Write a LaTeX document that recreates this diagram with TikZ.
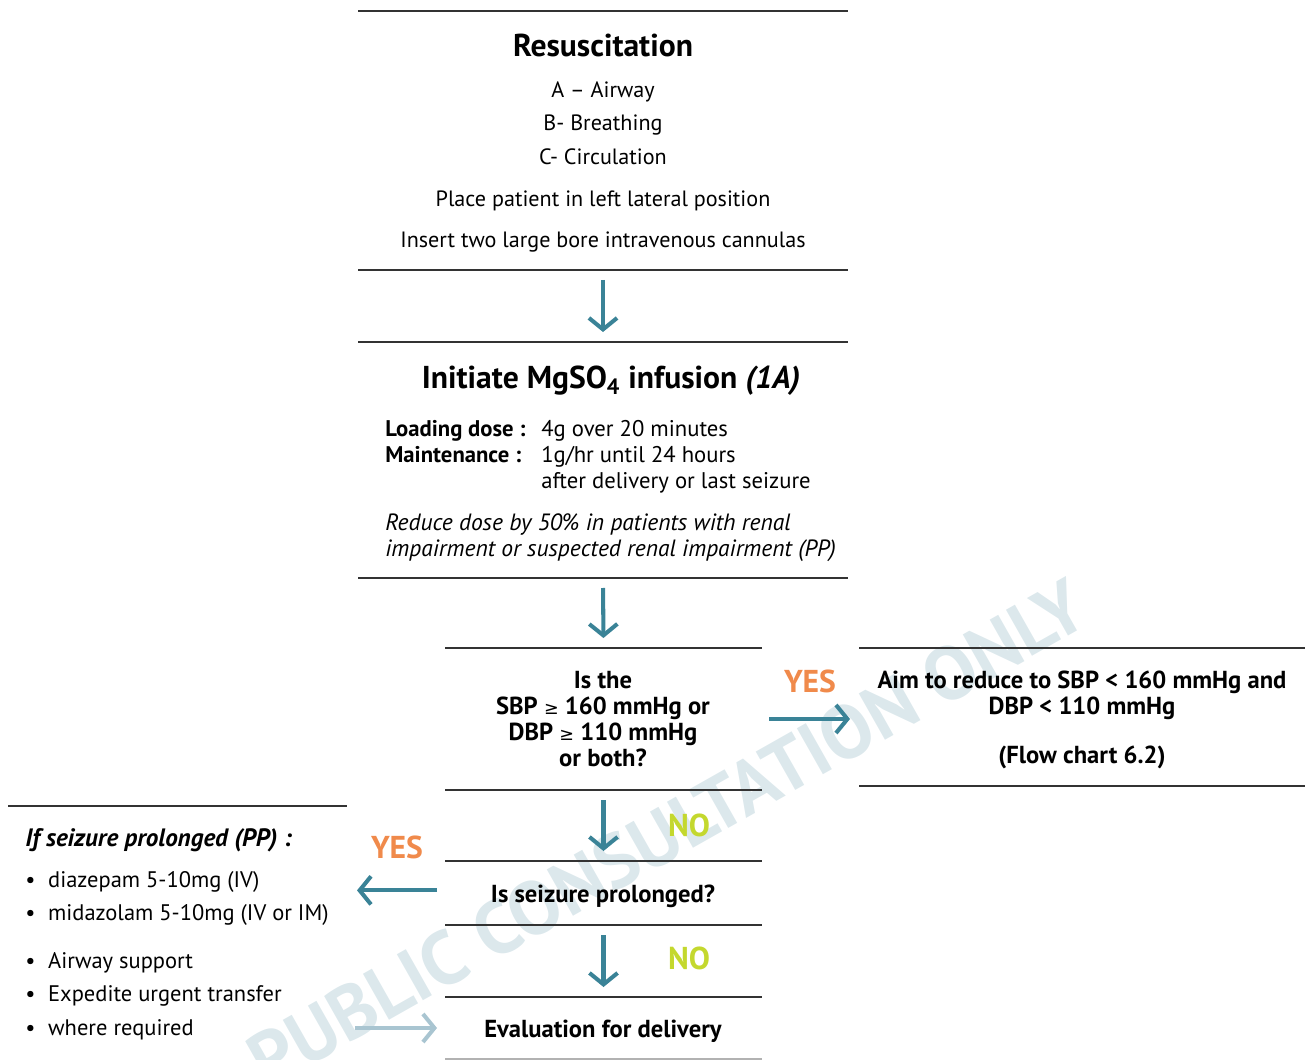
\documentclass[tikz,border=0pt]{standalone}
\usepackage{fontspec}
\setmainfont{PT Sans}
\newfontfamily\dejavu{DejaVu Sans}
\usetikzlibrary{arrows.meta, fit}
\definecolor{flowteal}{HTML}{3A8397}
\definecolor{paleteal}{HTML}{A9C5D1}
\definecolor{yesorange}{HTML}{F08A4B}
\definecolor{nogreen}{HTML}{C4D82E}
\definecolor{markgrey}{HTML}{DCE8EC}
\definecolor{rulegrey}{HTML}{333333}
\newcommand{\bul}{\makebox[13pt][l]{\textbullet}}
\newcommand{\atleast}{{\dejavu\mdseries\fontsize{10}{10}\selectfont ≥}}

\begin{document}
\begin{tikzpicture}[x=0.02cm, y=-0.02cm,
    rule/.style={draw=rulegrey, line width=0.9pt},
    flow/.style={draw=flowteal, line width=2.3pt, -{Straight Barb[length=6.5pt,width=16pt]},
        shorten <=0.2cm, shorten >=0.2cm},
    block/.style={inner sep=0pt, outer sep=0pt},
    body/.style={font=\fontsize{12.6}{19.3}\selectfont, anchor=base, inner sep=0pt},
    head/.style={font=\bfseries\fontsize{18}{20}\selectfont, anchor=base, inner sep=0pt},
    ask/.style={font=\bfseries\fontsize{14}{14.7}\selectfont, anchor=base, inner sep=0pt, align=center},
    yes/.style={font=\bfseries\fontsize{18}{20}\selectfont, text=yesorange, anchor=base, inner sep=0pt},
    no/.style={font=\bfseries\fontsize{18}{20}\selectfont, text=nogreen, anchor=base, inner sep=0pt}]
    \clip (0,0) rectangle (1311,1060);

    % watermark
    \node[rotate=29.5, text=markgrey, font=\bfseries\fontsize{43}{43}\selectfont] (mark) at (667,833) {PUBLIC CONSULTATION ONLY};

    % blocks between rules
    \node[block, fit={(358,11) (848,270)}] (resus) {};
    \node[block, fit={(358,342) (848,578)}] (mag) {};
    \node[block, fit={(445,648) (762,790)}] (bp) {};
    \node[block, fit={(859,648) (1305,786)}] (aim) {};
    \node[block, fit={(445,861) (762,925)}] (seiz) {};
    \node[block, fit={(445,997) (762,1059)}] (evald) {};
    \node[block, fit={(8,806) (347,1060)}] (prolong) {};

    \draw[rule] (resus.north west) -- (resus.north east);
    \draw[rule] (resus.south west) -- (resus.south east);
    \draw[rule] (mag.north west) -- (mag.north east);
    \draw[rule] (mag.south west) -- (mag.south east);
    \draw[rule] (bp.north west) -- (bp.north east);
    \draw[rule] (bp.south west) -- (bp.south east);
    \draw[rule] (aim.north west) -- (aim.north east);
    \draw[rule] (aim.south west) -- (aim.south east);
    \draw[rule] (seiz.north west) -- (seiz.north east);
    \draw[rule] (seiz.south west) -- (seiz.south east);
    \draw[rule] (evald.north west) -- (evald.north east);
    \draw[rule, draw=gray!60] (evald.south west) -- (evald.south east);
    \draw[rule] (prolong.north west) -- (prolong.north east);

    % resuscitation
    \node[head] (resustitle) at (603,57) {Resuscitation};
    \node[body, align=center, anchor=north] (resustext) at (603,81) {A -- Airway\\B- Breathing\\C- Circulation\\[4.5pt]
        Place patient in left lateral position\\[4pt]Insert two large bore intravenous cannulas};

    % magnesium
    \node[head] (magtitle) at (611,389) {Initiate MgSO\textsubscript{4} infusion \textit{(1A)}};
    \node[body, anchor=base west, font=\fontsize{12.9}{14.7}\selectfont] (dose) at (385,437)
        {\begin{tabular}[t]{@{}l@{\hspace{9pt}}l@{}}\textbf{Loading dose :} & 4g over 20 minutes\\
        \textbf{Maintenance :} & 1g/hr until 24 hours\\ & after delivery or last seizure\end{tabular}};
    \node[body, anchor=base west, align=left, font=\itshape\fontsize{13.4}{14.7}\selectfont] (renal) at (385,556)
        {Reduce dose by 50\% in patients with renal\\impairment or suspected renal impairment (PP)};

    % blood pressure question
    \node[ask, anchor=north] (asktext) at (603,671) {Is the\\SBP \atleast{} 160 mmHg or\\DBP \atleast{} 110 mmHg\\or both?};
    \node[ask, anchor=north] (aimtext) at (1082,671) {Aim to reduce to SBP < 160 mmHg and\\DBP < 110 mmHg\\[13pt](Flow chart 6.2)};
    \node[ask] (seiztext) at (603,902) {Is seizure prolonged?};
    \node[ask] (evaltext) at (603,1037) {Evaluation for delivery};

    % prolonged seizure
    \node[ask, anchor=base west, font=\bfseries\itshape\fontsize{14.3}{14.7}\selectfont] (prolongtitle) at (25,846) {If seizure prolonged (PP) :};
    \node[body, anchor=north west, align=left, font=\fontsize{12.8}{18.9}\selectfont] (drugs) at (25,871)
        {\bul diazepam 5-10mg (IV)\\\bul midazolam 5-10mg (IV or IM)\\[8.5pt]
        \bul Airway support\\\bul Expedite urgent transfer\\\bul where required};

    % answers
    \node[yes] (yesaim) at (810,692) {YES};
    \node[yes] (yesdrug) at (397,858) {YES};
    \node[no] (nobp) at (689,836) {NO};
    \node[no] (noseiz) at (689,969) {NO};

    % connectors
    \draw[flow] (resus.south) -- (mag.north);
    \draw[flow] (mag.south) -- (bp.north);
    \draw[flow] (bp.south) -- (seiz.north);
    \draw[flow] (seiz.south) -- (evald.north);
    \draw[flow, shorten <=0.14cm, shorten >=0.18cm] (bp.east) -- (bp.east -| aim.west);
    \draw[flow, shorten <=0.16cm, shorten >=0.2cm] ([yshift=1.5pt]seiz.west) -- ([yshift=1.5pt]seiz.west -| prolong.east);
    \draw[flow, draw=paleteal, shorten <=0.16cm, shorten >=0.16cm] (evald.west -| prolong.east) -- (evald.west);
\end{tikzpicture}
\end{document}
